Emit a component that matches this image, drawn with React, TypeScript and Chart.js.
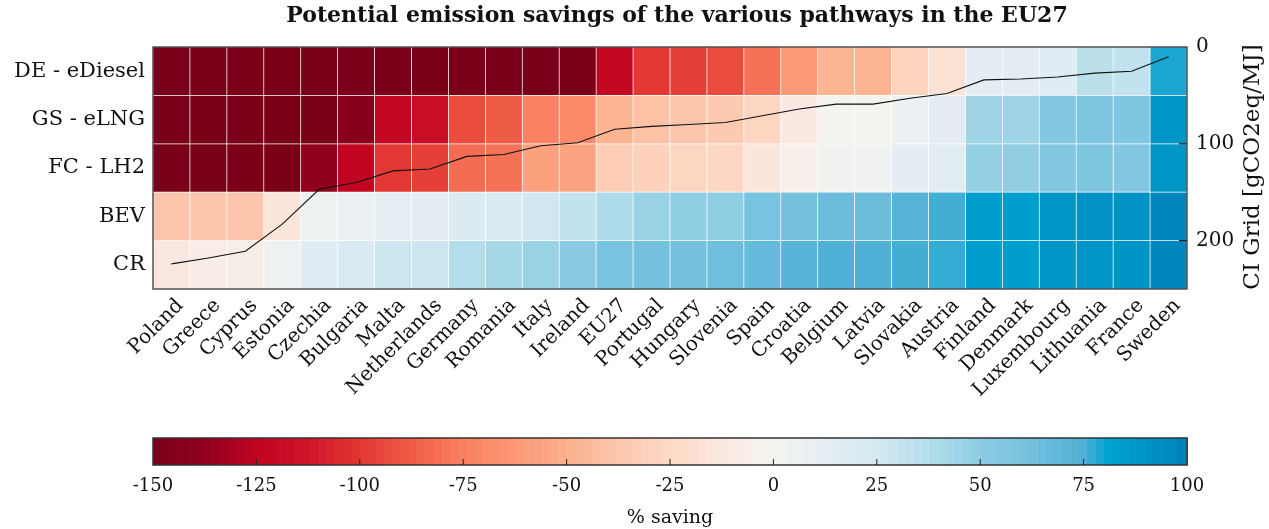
import React, { useEffect, useRef } from 'react';
import { Chart, registerables } from 'chart.js';

Chart.register(...registerables);

const countries = ['Poland', 'Greece', 'Cyprus', 'Estonia', 'Czechia', 'Bulgaria', 'Malta', 'Netherlands', 'Germany', 'Romania', 'Italy', 'Ireland', 'EU27', 'Portugal', 'Hungary', 'Slovenia', 'Spain', 'Croatia', 'Belgium', 'Latvia', 'Slovakia', 'Austria', 'Finland', 'Denmark', 'Luxembourg', 'Lithuania', 'France', 'Sweden'];

const rowLabels = ['DE - eDiesel', 'GS - eLNG', 'FC - LH2', 'BEV', 'CR'];

// % saving per pathway (values below -150 are clipped by the colour scale)
const deDiesel = [-506, -489, -470, -392, -293, -273, -240, -235, -199, -194, -169, -161, -122, -100, -97, -93, -80, -62, -48, -48, -28, -18, 15, 14, 18, 35, 33, 79];
const gsLng = [-280, -270, -258, -211, -152, -143, -122, -118, -93, -88, -74, -70, -48, -40, -38, -35, -27, -12, 0, 0, 8, 14, 45, 45, 55, 58, 57, 89];
const fcLh2 = [-250, -240, -228, -180, -138, -125, -100, -97, -82, -80, -58, -57, -33, -30, -27, -26, -15, -5, 2, 3, 15, 16, 48, 49, 55, 57, 55, 89];
const bev = [-38, -38, -38, -15, 5, 8, 13, 14, 20, 21, 27, 33, 40, 46, 50, 50, 60, 62, 65, 65, 73, 76, 84, 84, 89, 91, 91, 98];
const cr = [-13, -8, -7, 5, 18, 22, 28, 28, 38, 42, 46, 52, 60, 62, 63, 64, 67, 72, 75, 75, 76, 77, 84, 84, 89, 89, 90, 97];

// CI of the grid [gCO2eq/MJ]
const ciGrid = [224, 218, 211, 183, 147, 140, 128, 126, 113, 111, 102, 99, 85, 82, 80, 78, 71, 64, 59, 59, 53, 48, 34, 33, 31, 27, 25, 10];

const rightTicks = [0, 100, 200];
const cbarTicks = [-150, -125, -100, -75, -50, -25, 0, 25, 50, 75, 100];
const cbarMin = -150;
const cbarMax = 100;

const FONT = '"DejaVu Serif", serif';

const cmapStops: [number, number[]][] = [
  [-150, [122, 0, 25]],
  [-137.5, [145, 0, 30]],
  [-125, [192, 4, 34]],
  [-112.5, [208, 20, 40]],
  [-100, [226, 55, 50]],
  [-87.5, [239, 92, 72]],
  [-75, [249, 128, 98]],
  [-62.5, [251, 152, 118]],
  [-50, [252, 176, 140]],
  [-37.5, [253, 198, 172]],
  [-25, [253, 217, 198]],
  [-12.5, [250, 233, 225]],
  [0, [243, 243, 240]],
  [12.5, [230, 238, 243]],
  [25, [213, 233, 242]],
  [37.5, [181, 222, 235]],
  [50, [142, 205, 226]],
  [62.5, [115, 192, 222]],
  [75, [80, 176, 213]],
  [81, [0, 163, 207]],
  [100, [0, 130, 186]],
];

function colorFor(v: number): string {
  const x = Math.max(cbarMin, Math.min(cbarMax, v));
  for (let i = 0; i < cmapStops.length - 1; i++) {
    const [a, ca] = cmapStops[i];
    const [b, cb] = cmapStops[i + 1];
    if (x >= a && x <= b) {
      const t = (x - a) / (b - a);
      const c = ca.map((u, k) => Math.round(u + (cb[k] - u) * t));
      return `rgb(${c[0]},${c[1]},${c[2]})`;
    }
  }
  const c = cmapStops[cmapStops.length - 1][1];
  return `rgb(${c[0]},${c[1]},${c[2]})`;
}

const overlayPlugin = {
  id: 'overlay',
  afterDraw(chart: any) {
    const { ctx, chartArea } = chart;
    const { left, right, top, bottom } = chartArea;
    const y2 = chart.scales.y2;
    ctx.save();
    // frame
    ctx.strokeStyle = '#3a3a3a';
    ctx.lineWidth = 1.3;
    ctx.strokeRect(left, top, right - left, bottom - top);
    // inward ticks for right axis
    ctx.strokeStyle = '#222';
    ctx.lineWidth = 1.2;
    rightTicks.forEach((t) => {
      if (t === 0) return;
      const y = y2.getPixelForValue(t);
      ctx.beginPath();
      ctx.moveTo(right - 8, y);
      ctx.lineTo(right, y);
      ctx.stroke();
    });
    // title
    ctx.fillStyle = '#111';
    ctx.font = `bold 22px ${FONT}`;
    ctx.textAlign = 'center';
    ctx.textBaseline = 'alphabetic';
    ctx.fillText('Potential emission savings of the various pathways in the EU27', 677, 22);
    // right axis title
    ctx.save();
    ctx.translate(1265, 167);
    ctx.rotate(-Math.PI / 2);
    ctx.font = `23px ${FONT}`;
    ctx.textAlign = 'center';
    ctx.textBaseline = 'bottom';
    ctx.fillText('CI Grid [gCO2eq/MJ]', 0, 0);
    ctx.restore();

    // colour bar
    const cbTop = 438;
    const cbBot = 465;
    const xOf = (v: number) => left + ((v - cbarMin) / (cbarMax - cbarMin)) * (right - left);
    const steps = 125;
    for (let i = 0; i < steps; i++) {
      const v0 = cbarMin + (i * (cbarMax - cbarMin)) / steps;
      const v1 = cbarMin + ((i + 1) * (cbarMax - cbarMin)) / steps;
      ctx.fillStyle = colorFor((v0 + v1) / 2);
      const xa = xOf(v0);
      const xb = xOf(v1);
      ctx.fillRect(Math.floor(xa), cbTop, Math.ceil(xb - xa) + 1, cbBot - cbTop);
    }
    ctx.strokeStyle = '#333';
    ctx.lineWidth = 1.5;
    ctx.strokeRect(left, cbTop, right - left, cbBot - cbTop);
    ctx.lineWidth = 1;
    ctx.strokeStyle = '#222';
    cbarTicks.forEach((t) => {
      if (t === cbarMin || t === cbarMax) return;
      const x = xOf(t);
      ctx.beginPath();
      ctx.moveTo(x, cbBot);
      ctx.lineTo(x, cbBot - 6);
      ctx.stroke();
    });
    ctx.fillStyle = '#111';
    ctx.font = `18px ${FONT}`;
    ctx.textAlign = 'center';
    ctx.textBaseline = 'middle';
    cbarTicks.forEach((t) => {
      ctx.fillText(String(t), xOf(t), 486);
    });
    ctx.font = `19px ${FONT}`;
    ctx.fillText('% saving', (left + right) / 2, 518);
    ctx.restore();
  },
};

export default function App() {
  const ref = useRef<HTMLCanvasElement>(null);
  useEffect(() => {
    const canvas = ref.current;
    if (!canvas) return;
    const rows = [deDiesel, gsLng, fcLh2, bev, cr];
    const barSets: any[] = rows.map((vals, r) => ({
      type: 'bar',
      label: rowLabels[r],
      data: vals.map(() => [4 - r, 5 - r]),
      backgroundColor: vals.map((v) => colorFor(v)),
      borderColor: 'rgba(255,255,255,0.14)',
      borderWidth: 0.7,
      borderSkipped: false,
      grouped: false,
      barPercentage: 1,
      categoryPercentage: 1,
      yAxisID: 'y',
      order: 2,
    }));
    const lineSet: any = {
      type: 'line',
      label: 'CI Grid',
      data: ciGrid,
      yAxisID: 'y2',
      borderColor: '#111',
      borderWidth: 1.1,
      pointRadius: 0,
      tension: 0,
      order: 0,
    };
    const chart = new Chart(canvas, {
      type: 'bar',
      data: { labels: countries, datasets: [...barSets, lineSet] },
      options: {
        responsive: true,
        maintainAspectRatio: false,
        animation: false,
        layout: { padding: { top: 47, left: 0, right: 0, bottom: 0 } },
        plugins: { legend: { display: false }, tooltip: { enabled: false }, title: { display: false } },
        scales: {
          x: {
            type: 'category',
            offset: true,
            grid: { display: false, drawTicks: false },
            border: { display: false },
            ticks: {
              autoSkip: false,
              minRotation: 45,
              maxRotation: 45,
              padding: 5,
              labelOffset: 9,
              color: '#111',
              font: { family: FONT, size: 20 },
            },
            afterFit: (s: any) => {
              s.height = 240;
            },
          },
          y: {
            type: 'linear',
            position: 'left',
            min: 0,
            max: 5,
            afterBuildTicks: (s: any) => {
              s.ticks = [0.5, 1.5, 2.5, 3.5, 4.5].map((v) => ({ value: v }));
            },
            ticks: {
              callback: (v: any) => rowLabels[4 - Math.floor(Number(v))],
              padding: 8,
              color: '#111',
              font: { family: FONT, size: 21 },
            },
            grid: { display: false, drawTicks: false },
            border: { display: false },
            afterFit: (s: any) => {
              s.width = 153;
            },
          },
          y2: {
            type: 'linear',
            position: 'right',
            min: 0,
            max: 250,
            reverse: true,
            afterBuildTicks: (s: any) => {
              s.ticks = rightTicks.map((v) => ({ value: v }));
            },
            ticks: {
              padding: 9,
              color: '#111',
              font: { family: FONT, size: 20 },
            },
            grid: { display: false, drawTicks: false },
            border: { display: false },
            afterFit: (s: any) => {
              s.width = 82;
            },
          },
        },
      },
      plugins: [overlayPlugin],
    } as any);
    return () => chart.destroy();
  }, []);
  return (
    <div style={{ position: 'fixed', left: 0, top: 0, width: 1269, height: 529, background: '#fff' }}>
      <canvas ref={ref} />
    </div>
  );
}
